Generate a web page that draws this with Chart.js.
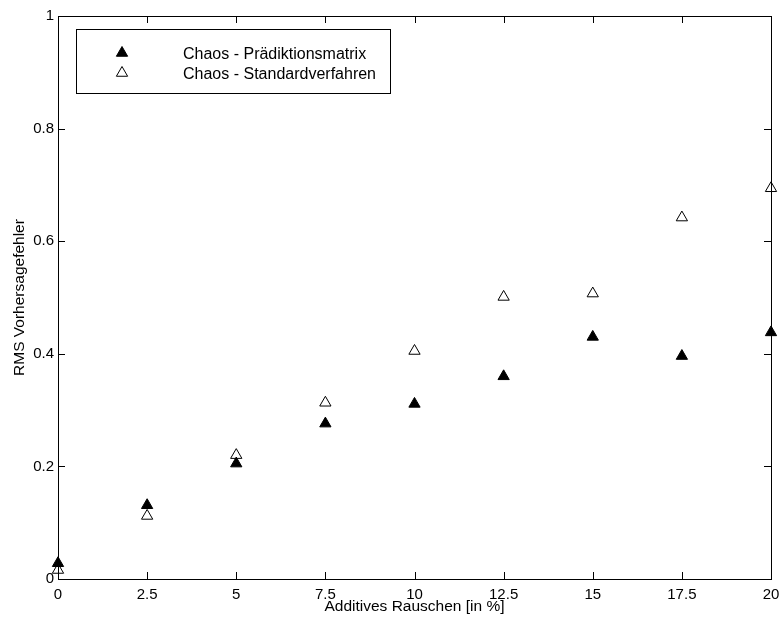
<!DOCTYPE html>
<html>
<head>
<meta charset="utf-8">
<script src="https://cdn.jsdelivr.net/npm/chart.js@4.4.1/dist/chart.umd.min.js"></script>
<style>
  html, body { margin: 0; padding: 0; background: #fff; }
  #wrap { width: 781px; height: 620px; }
</style>
</head>
<body>
<div id="wrap"><canvas id="chart" width="781" height="620"></canvas></div>
<script>
const noise = [0, 2.5, 5, 7.5, 10, 12.5, 15, 17.5, 20];
const praediktion = [0.028, 0.131, 0.205, 0.276, 0.311, 0.36, 0.43, 0.396, 0.438];
const standard = [0.016, 0.112, 0.22, 0.313, 0.405, 0.501, 0.507, 0.642, 0.694];
const xTicks = [0, 2.5, 5, 7.5, 10, 12.5, 15, 17.5, 20];
const yTicks = [0, 0.2, 0.4, 0.6, 0.8, 1];
const seriesLabels = ["Chaos - Prädiktionsmatrix", "Chaos - Standardverfahren"];

const FONT = "'Liberation Sans', Arial, Helvetica, sans-serif";

const toPoints = (ys) => noise.map((x, i) => ({ x, y: ys[i] }));

// box, inner ticks and in-plot legend, matlab style
const frame = {
  id: "frame",
  afterDatasetsDraw(chart) {
    const { ctx, chartArea: a, scales } = chart;
    const tl = 7;
    ctx.save();
    ctx.strokeStyle = "#000";
    ctx.lineWidth = 1;
    ctx.beginPath();
    xTicks.forEach((v) => {
      const px = Math.round(scales.x.getPixelForValue(v)) + 0.5;
      ctx.moveTo(px, a.bottom);
      ctx.lineTo(px, a.bottom - tl);
      ctx.moveTo(px, a.top);
      ctx.lineTo(px, a.top + tl);
    });
    yTicks.forEach((v) => {
      const py = Math.round(scales.y.getPixelForValue(v)) + 0.5;
      ctx.moveTo(a.left, py);
      ctx.lineTo(a.left + tl, py);
      ctx.moveTo(a.right, py);
      ctx.lineTo(a.right - tl, py);
    });
    ctx.stroke();
    ctx.strokeRect(a.left + 0.5, a.top + 0.5, a.right - a.left, a.bottom - a.top);

    // legend
    const lx = a.left + 18, ly = a.top + 13, lw = 314, lh = 64;
    ctx.fillStyle = "#fff";
    ctx.fillRect(lx, ly, lw, lh);
    ctx.strokeRect(lx + 0.5, ly + 0.5, lw, lh);
    ctx.font = "16px " + FONT;
    ctx.textBaseline = "middle";
    ctx.textAlign = "left";
    chart.data.datasets.forEach((ds, i) => {
      const y = ly + 24 + i * 20;
      ctx.fillStyle = ds.backgroundColor;
      ctx.strokeStyle = ds.borderColor;
      ctx.lineWidth = 1;
      Chart.helpers.drawPoint(ctx, { pointStyle: "triangle", radius: 6.5, rotation: 0, borderWidth: 1 }, lx + 46, y);
      ctx.fillStyle = "#000";
      ctx.fillText(seriesLabels[i], lx + 107, y + 1.5);
    });
    ctx.restore();
  },
};

new Chart(document.getElementById("chart"), {
  type: "scatter",
  data: {
    datasets: [
      {
        label: seriesLabels[0],
        data: toPoints(praediktion),
        pointStyle: "triangle",
        pointRadius: 6.5,
        pointHoverRadius: 6.5,
        backgroundColor: "#000",
        borderColor: "#000",
        borderWidth: 1,
        clip: false,
      },
      {
        label: seriesLabels[1],
        data: toPoints(standard),
        pointStyle: "triangle",
        pointRadius: 6.5,
        pointHoverRadius: 6.5,
        backgroundColor: "#fff",
        borderColor: "#000",
        borderWidth: 1,
        clip: false,
      },
    ],
  },
  options: {
    responsive: false,
    animation: false,
    events: [],
    layout: { padding: { top: 16, right: 10, left: 0, bottom: 0 } },
    plugins: {
      legend: { display: false },
      tooltip: { enabled: false },
    },
    scales: {
      x: {
        type: "linear",
        min: 0,
        max: 20,
        afterBuildTicks: (s) => { s.ticks = xTicks.map((v) => ({ value: v })); },
        afterFit: (s) => {
          s.height = 41;
          s.paddingLeft = 0;
          s.paddingRight = 0;
        },
        grid: { display: false, drawTicks: false, tickLength: 0 },
        border: { display: false },
        ticks: {
          color: "#000",
          padding: 7,
          maxRotation: 0,
          font: { family: FONT, size: 15 },
          callback: (v) => String(v),
        },
        title: {
          display: true,
          text: "Additives Rauschen [in %]",
          color: "#000",
          padding: { top: 0, bottom: 4 },
          font: { family: FONT, size: 15.5 },
        },
      },
      y: {
        type: "linear",
        min: 0,
        max: 1,
        afterBuildTicks: (s) => { s.ticks = yTicks.map((v) => ({ value: v })); },
        afterFit: (s) => {
          s.width = 58;
          s.paddingTop = 0;
          s.paddingBottom = 0;
        },
        grid: { display: false, drawTicks: false, tickLength: 0 },
        border: { display: false },
        ticks: {
          color: "#000",
          padding: 4,
          font: { family: FONT, size: 15 },
          callback: (v) => String(v),
        },
        title: {
          display: true,
          text: "RMS Vorhersagefehler",
          color: "#000",
          padding: { top: 10, bottom: 0 },
          font: { family: FONT, size: 15.5 },
        },
      },
    },
  },
  plugins: [frame],
});
</script>
</body>
</html>
